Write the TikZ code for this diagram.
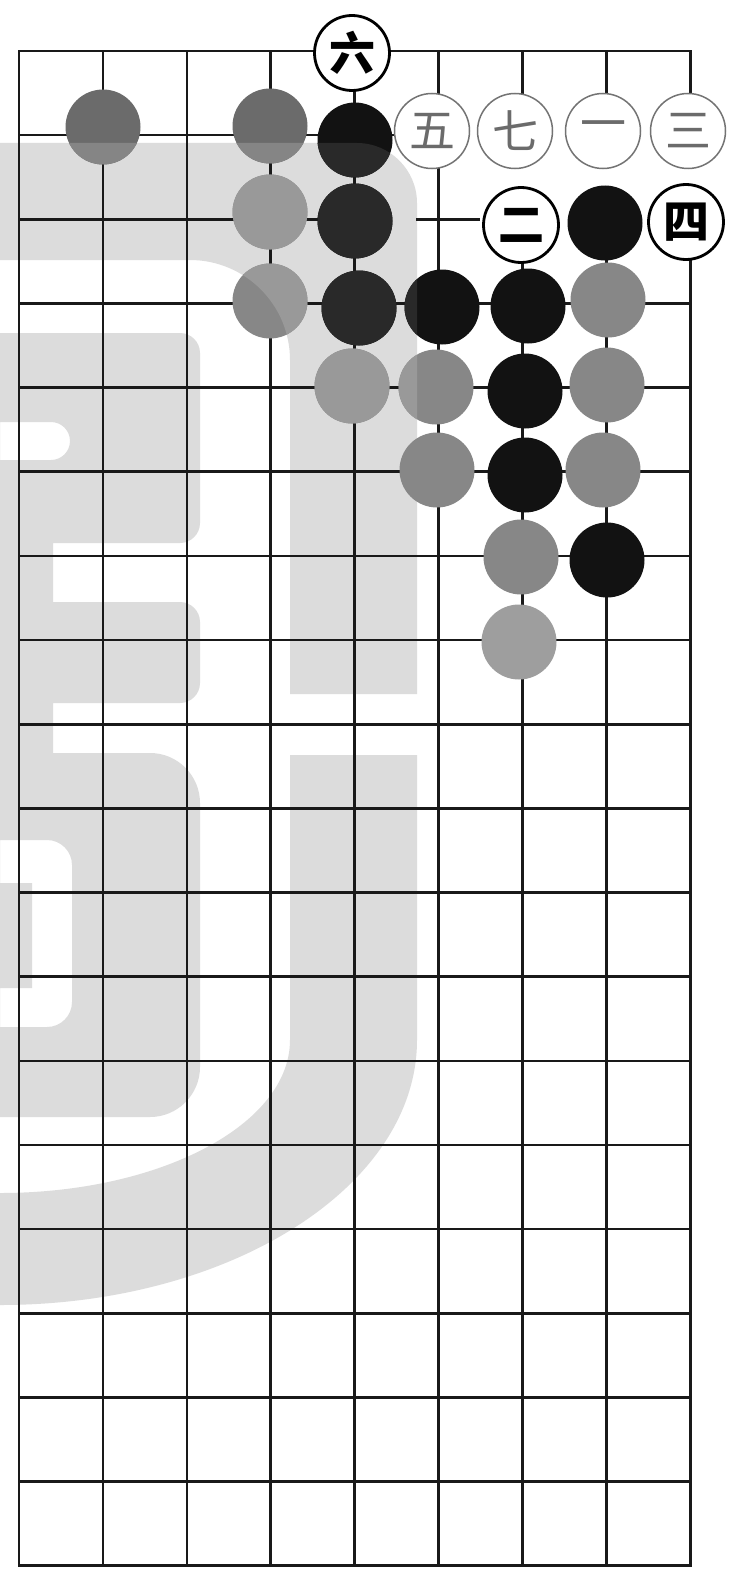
\documentclass[tikz,border=0pt]{standalone}
\usepackage{fontspec}
\newfontfamily\cjk{Noto Sans CJK SC}
\definecolor{wmgray}{RGB}{220,220,220}
\begin{document}
\begin{tikzpicture}[x=1pt,y=-1pt,
  gridline/.style={line width=2.6pt, draw=black!90, line cap=rect},
  stone/.style={circle, minimum size=75pt, inner sep=0pt, outer sep=0pt},
  blk/.style={stone, fill=black!93},
  gry/.style={stone, fill=black!47},
  gryd/.style={stone, fill=black!58},
  gryl/.style={stone, fill=black!38},
  numb/.style={stone, fill=white, draw=black, line width=2.8pt, text=black,
    font={\cjk\bfseries\fontsize{46}{46}\selectfont}},
  faded/.style={stone, fill=white, draw=black!55, line width=1.5pt, text=black!58,
    font={\cjk\fontsize{46}{46}\selectfont}},
  wmshape/.style={insert path={
    (0,143) -- (357,143) .. controls (390,143) and (417,170) .. (417,203)
      -- (417,694) -- (290,694) -- (290,360)
      .. controls (290,304.8) and (245.2,260) .. (190,260) -- (0,260) -- cycle
    (0,333) -- (180,333) .. controls (191,333) and (200,342) .. (200,353)
      -- (200,523) .. controls (200,534) and (191,543) .. (180,543)
      -- (53,543) -- (53,602) -- (180,602) .. controls (191,602) and (200,611) .. (200,622)
      -- (200,683) .. controls (200,694) and (191,703) .. (180,703)
      -- (53,703) -- (53,753) -- (150,753) .. controls (177.6,753) and (200,775.4) .. (200,803)
      -- (200,1067) .. controls (200,1094.6) and (177.6,1117) .. (150,1117) -- (0,1117) -- cycle
    (0,422) -- (51,422) .. controls (61.5,422) and (70,430.5) .. (70,441)
      .. controls (70,451.5) and (61.5,460) .. (51,460) -- (0,460) -- cycle
    (0,840) -- (47,840) .. controls (60.8,840) and (72,851.2) .. (72,865)
      -- (72,1002) .. controls (72,1015.8) and (60.8,1027) .. (47,1027) -- (0,1027) -- cycle
    (0,883) rectangle (32,988)
    (290,755) -- (417,755) -- (417,1040) .. controls (417,1186.4) and (230.3,1305) .. (0,1305)
      -- (0,1193) .. controls (160.2,1193) and (290,1124.5) .. (290,1040) -- cycle
  }}
]
\useasboundingbox (0,0) rectangle (732,1581);
\fill[white] (0,0) rectangle (732,1581);
% watermark
\path[fill=wmgray, even odd rule, wmshape];
% board grid
\foreach \i in {0,...,8}
  \draw[gridline] ({19+83.9*\i},51) -- ({19+83.9*\i},1566);
\foreach \j in {0,...,18}
  \draw[gridline] (19,{51+84.15*\j}) -- (690,{51+84.15*\j});
% parts of the grid not printed between the numbered stones
\fill[white] (394,118) rectangle (726,146);
\fill[white] (480,140) rectangle (726,224);
\fill[wmgray] (392,212) rectangle (416,226);
% stones
\node[gryd] (g1) at (103,127) {};
\node[gryd] (g2) at (270,126) {};
\node[blk]  (b1) at (355,140) {};
\node[gry]  (g3) at (270,212) {};
\node[blk]  (b2) at (355,221) {};
\node[blk]  (b9) at (605,223) {};
\node[gry]  (g4) at (270,301) {};
\node[blk]  (b3) at (359,308) {};
\node[blk]  (b4) at (442,307) {};
\node[blk]  (b5) at (528,306) {};
\node[gry]  (g5) at (608,300) {};
\node[gry]  (g6) at (352,386) {};
\node[gry]  (g7) at (436,387) {};
\node[blk]  (b6) at (525,391) {};
\node[gry]  (g8) at (607,385) {};
\node[gry]  (g9) at (437,470) {};
\node[blk]  (b7) at (525,475) {};
\node[gry]  (g10) at (603,470) {};
\node[gry]  (g11) at (521,557) {};
\node[blk]  (b8) at (607,560) {};
\node[gryl] (g12) at (519,642) {};
% numbered stones
\node[numb]  (n6) at (352,53) {六};
\node[faded] (n5) at (432,131) {五};
\node[faded] (n7) at (515,131) {七};
\node[faded] (n1) at (603,131) {一};
\node[faded] (n3) at (688,131) {三};
\node[numb]  (n2) at (521,225) {二};
\node[numb]  (n4) at (686,222) {四};
% watermark lightening over stones
\begin{scope}[even odd rule]
  \clip[wmshape];
  \foreach \n in {g1,g2} \fill[black!48] (\n.center) circle (37.5);
  \foreach \n in {g3,g4,g6,g7} \fill[black!40] (\n.center) circle (37.5);
  \foreach \n in {b1,b2,b3,b4} \fill[black!84] (\n.center) circle (37.5);
\end{scope}
\end{tikzpicture}
\end{document}
